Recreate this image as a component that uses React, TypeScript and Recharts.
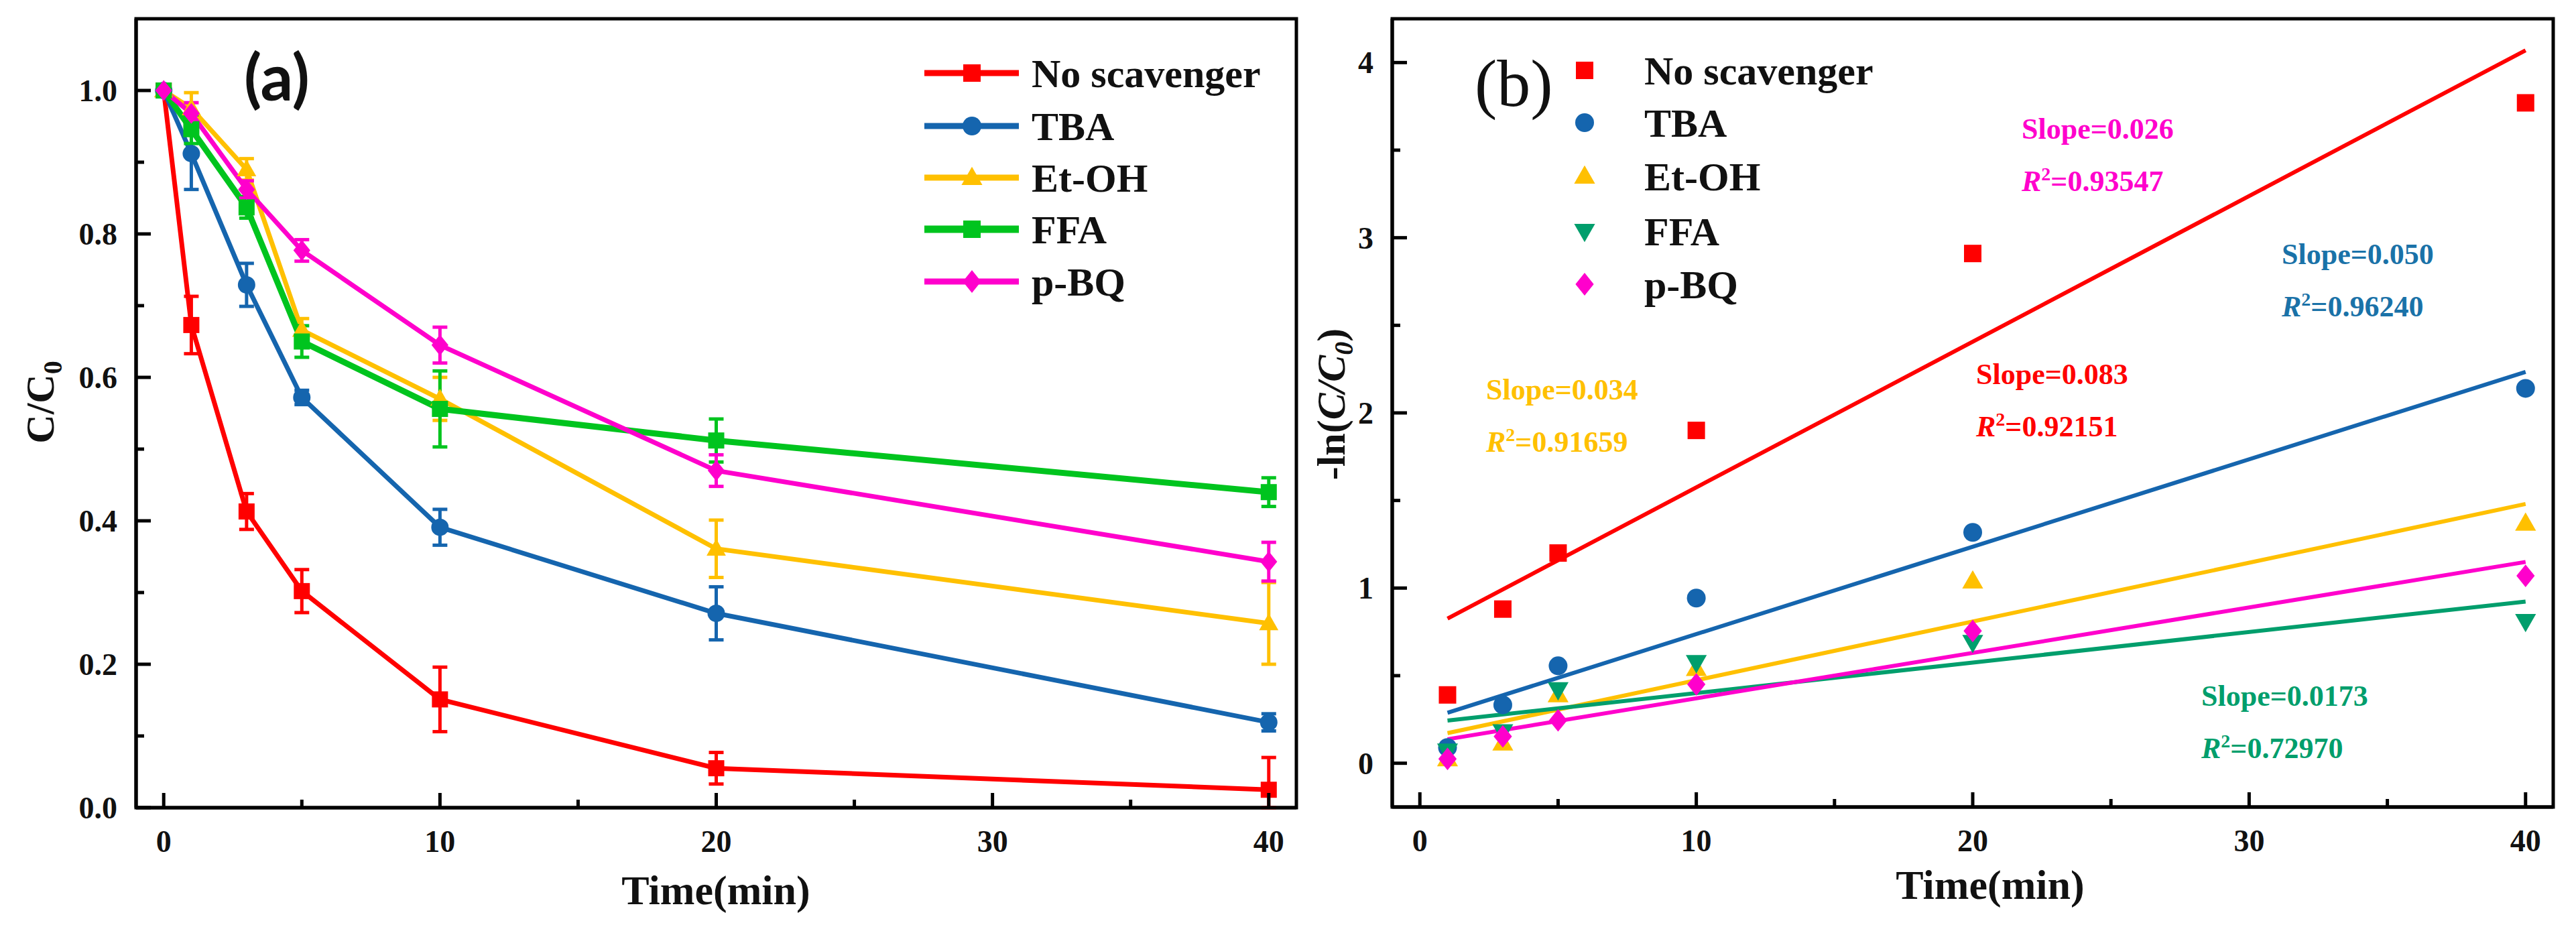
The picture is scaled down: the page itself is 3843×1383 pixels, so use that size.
import { ComposedChart, ErrorBar, Line, ReferenceArea, Scatter, XAxis, YAxis } from "recharts";

const W = 3843;
const H = 1383;
const SERIF = '"Liberation Serif", "Times New Roman", serif';
const INK = "#111";

// colours
const RED = "#ff0000";
const BLUE = "#1565ae";
const YELLOW = "#ffc000";
const GREEN_A = "#00c41e";
const GREEN_B = "#009e6c";
const MAGENTA = "#ff00cc";

// ---- panel (a): C/C0 vs time
const timesA = [0, 1, 3, 5, 10, 20, 40];
const noScavenger = [1.0, 0.673, 0.413, 0.302, 0.151, 0.055, 0.025];
const noScavengerErr: (number | number[])[] = [0, 0.04, 0.025, 0.03, 0.045, 0.022, [0.025, 0.045]];
const tba = [1.0, 0.912, 0.729, 0.572, 0.391, 0.271, 0.119];
const tbaErr = [0, 0.05, 0.03, 0.01, 0.025, 0.037, 0.012];
const etoh = [1.0, 0.975, 0.89, 0.666, 0.57, 0.361, 0.257];
const etohErr = [0, 0.022, 0.015, 0.016, 0.03, 0.04, 0.057];
const ffa = [1.0, 0.946, 0.837, 0.65, 0.556, 0.512, 0.44];
const ffaErr = [0, 0.02, 0.015, 0.022, 0.053, 0.03, 0.02];
const pbq = [1.0, 0.968, 0.862, 0.777, 0.645, 0.47, 0.343];
const pbqErr = [0, 0.015, 0.012, 0.015, 0.025, 0.022, 0.027];

// ---- panel (b): -ln(C/C0) vs time, with linear fits
const timesB = [1, 3, 5, 10, 20, 40];
const lnNoScavenger = [0.39, 0.88, 1.2, 1.9, 2.91, 3.77];
const lnTba = [0.09, 0.333, 0.556, 0.943, 1.318, 2.14];
const lnEtoh = [0.025, 0.115, 0.39, 0.54, 1.04, 1.37];
const lnFfa = [0.07, 0.18, 0.42, 0.575, 0.69, 0.81];
const lnPbq = [0.025, 0.153, 0.245, 0.45, 0.755, 1.07];

const fitTimes = [1, 40];
const fitNoScavenger = [0.826, 4.07];
const fitTba = [0.288, 2.234];
const fitEtoh = [0.172, 1.48];
const fitFfa = [0.244, 0.923];
const fitPbq = [0.137, 1.149];

const names = ["No scavenger", "TBA", "Et-OH", "FFA", "p-BQ"];
const slopeLabels = ["0.083", "0.050", "0.034", "0.0173", "0.026"];
const r2Labels = ["0.92151", "0.96240", "0.91659", "0.72970", "0.93547"];

// ticks
const xMajor = [0, 10, 20, 30, 40];
const xMinor = [5, 15, 25, 35];
const yMajorA = [0, 0.2, 0.4, 0.6, 0.8, 1.0];
const yMinorA = [0.1, 0.3, 0.5, 0.7, 0.9];
const yMajorB = [0, 1, 2, 3, 4];
const yMinorB = [0.5, 1.5, 2.5, 3.5];

type Shape = "square" | "circle" | "triangle" | "triangleDown" | "diamond";

const seriesA = [
  { name: names[0], values: noScavenger, err: noScavengerErr, color: RED, shape: "square" as Shape, lw: 7 },
  { name: names[1], values: tba, err: tbaErr, color: BLUE, shape: "circle" as Shape, lw: 7 },
  { name: names[2], values: etoh, err: etohErr, color: YELLOW, shape: "triangle" as Shape, lw: 7 },
  { name: names[3], values: ffa, err: ffaErr, color: GREEN_A, shape: "square" as Shape, lw: 9 },
  { name: names[4], values: pbq, err: pbqErr, color: MAGENTA, shape: "diamond" as Shape, lw: 7 },
];

const seriesB = [
  { name: names[0], values: lnNoScavenger, fit: fitNoScavenger, color: RED, shape: "square" as Shape },
  { name: names[1], values: lnTba, fit: fitTba, color: BLUE, shape: "circle" as Shape },
  { name: names[2], values: lnEtoh, fit: fitEtoh, color: YELLOW, shape: "triangle" as Shape },
  { name: names[3], values: lnFfa, fit: fitFfa, color: GREEN_B, shape: "triangleDown" as Shape },
  { name: names[4], values: lnPbq, fit: fitPbq, color: MAGENTA, shape: "diamond" as Shape },
];

function Marker({ shape, cx, cy, size, color }: { shape: Shape; cx: number; cy: number; size: number; color: string }) {
  if (cx == null || cy == null || Number.isNaN(cx) || Number.isNaN(cy)) return null;
  const h = size / 2;
  switch (shape) {
    case "square":
      return <rect x={cx - h} y={cy - h} width={size} height={size} fill={color} />;
    case "circle":
      return <circle cx={cx} cy={cy} r={h + 1} fill={color} />;
    case "triangle":
      return (
        <polygon
          points={`${cx},${cy - h * 1.25} ${cx - h * 1.2},${cy + h * 0.85} ${cx + h * 1.2},${cy + h * 0.85}`}
          fill={color}
        />
      );
    case "triangleDown":
      return (
        <polygon
          points={`${cx},${cy + h * 1.25} ${cx - h * 1.2},${cy - h * 0.85} ${cx + h * 1.2},${cy - h * 0.85}`}
          fill={color}
        />
      );
    default:
      return (
        <polygon
          points={`${cx},${cy - h * 1.3} ${cx + h * 1.05},${cy} ${cx},${cy + h * 1.3} ${cx - h * 1.05},${cy}`}
          fill={color}
        />
      );
  }
}

const tickText = { fontFamily: SERIF, fontWeight: "bold" as const, fontSize: 46, fill: INK };

function XTick(props: any) {
  const { x, y, payload } = props;
  const major = xMajor.includes(payload.value);
  return (
    <g>
      <line x1={x} x2={x} y1={y} y2={y - (major ? 22 : 12)} stroke="#000" strokeWidth={5} />
      {major ? (
        <text x={x} y={y + 66} textAnchor="middle" {...tickText}>
          {payload.value}
        </text>
      ) : null}
    </g>
  );
}

function makeYTick(majors: number[], digits: number) {
  return function YTick(props: any) {
    const { x, y, payload } = props;
    const major = majors.includes(payload.value);
    return (
      <g>
        <line x1={x} x2={x + (major ? 22 : 12)} y1={y} y2={y} stroke="#000" strokeWidth={5} />
        {major ? (
          <text x={x - 28} y={y + 16} textAnchor="end" {...tickText}>
            {Number(payload.value).toFixed(digits)}
          </text>
        ) : null}
      </g>
    );
  };
}

const YTickA = makeYTick(yMajorA, 1);
const YTickB = makeYTick(yMajorB, 0);

const AXIS_LINE = { stroke: "#000", strokeWidth: 5 };

function PanelA() {
  return (
    <ComposedChart width={1940} height={H} margin={{ top: 28, right: 6, bottom: 0, left: 0 }}>
      <XAxis
        type="number"
        dataKey="t"
        domain={[-1, 41]}
        allowDataOverflow
        ticks={[...xMajor, ...xMinor]}
        interval={0}
        tick={(p: any) => <XTick {...p} />}
        tickLine={false}
        tickSize={0}
        tickMargin={0}
        axisLine={AXIS_LINE}
        height={178}
      />
      <YAxis
        type="number"
        domain={[0, 1.1]}
        allowDataOverflow
        ticks={[...yMajorA, ...yMinorA]}
        interval={0}
        tick={(p: any) => <YTickA {...p} />}
        tickLine={false}
        tickSize={0}
        tickMargin={0}
        axisLine={AXIS_LINE}
        width={203}
      />
      <ReferenceArea x1={-1} x2={41} y1={0} y2={1.1} fill="none" stroke="#000" strokeWidth={5} ifOverflow="visible" />
      {seriesA.map((s) => (
        <Line
          key={s.name}
          name={s.name}
          type="linear"
          data={s.values.map((v, i) => ({ t: timesA[i], v, e: s.err[i] }))}
          dataKey="v"
          stroke={s.color}
          strokeWidth={s.lw}
          isAnimationActive={false}
          dot={(p: any) => (
            <Marker key={`${s.name}-${p.index}`} shape={s.shape} cx={p.cx} cy={p.cy} size={24} color={s.color} />
          )}
          activeDot={false}
        >
          <ErrorBar dataKey="e" width={11} strokeWidth={5} stroke={s.color} direction="y" isAnimationActive={false} />
        </Line>
      ))}
    </ComposedChart>
  );
}

function PanelB() {
  return (
    <ComposedChart width={1903} height={H} margin={{ top: 28, right: 34, bottom: 0, left: 0 }}>
      <XAxis
        type="number"
        dataKey="t"
        domain={[-1, 41]}
        allowDataOverflow
        ticks={[...xMajor, ...xMinor]}
        interval={0}
        tick={(p: any) => <XTick {...p} />}
        tickLine={false}
        tickSize={0}
        tickMargin={0}
        axisLine={AXIS_LINE}
        height={179}
      />
      <YAxis
        type="number"
        dataKey="v"
        domain={[-0.25, 4.25]}
        allowDataOverflow
        ticks={[...yMajorB, ...yMinorB]}
        interval={0}
        tick={(p: any) => <YTickB {...p} />}
        tickLine={false}
        tickSize={0}
        tickMargin={0}
        axisLine={AXIS_LINE}
        width={137}
      />
      <ReferenceArea x1={-1} x2={41} y1={-0.25} y2={4.25} fill="none" stroke="#000" strokeWidth={5} ifOverflow="visible" />
      {seriesB.map((s) => (
        <Line
          key={`fit-${s.name}`}
          type="linear"
          data={s.fit.map((v, i) => ({ t: fitTimes[i], v }))}
          dataKey="v"
          stroke={s.color}
          strokeWidth={6}
          dot={false}
          activeDot={false}
          isAnimationActive={false}
        />
      ))}
      {seriesB.map((s) => (
        <Scatter
          key={`pts-${s.name}`}
          name={s.name}
          data={s.values.map((v, i) => ({ t: timesB[i], v }))}
          isAnimationActive={false}
          shape={(p: any) => <Marker shape={s.shape} cx={p.cx} cy={p.cy} size={26} color={s.color} />}
        />
      ))}
    </ComposedChart>
  );
}

const legendRowsA = [109, 188, 265, 342, 420];
const legendRowsB = [105, 183, 263, 345, 424];

function Overlay() {
  const bold = { fontFamily: SERIF, fontWeight: "bold" as const, fill: INK };
  const note = (x: number, y: number, color: string, slope: string, r2: string) => (
    <g fontFamily={SERIF} fontWeight="bold" fontSize={44} fill={color}>
      <text x={x} y={y}>{`Slope=${slope}`}</text>
      <text x={x} y={y + 78}>
        <tspan fontStyle="italic">R</tspan>
        <tspan dy={-16} fontSize={28}>2</tspan>
        <tspan dy={16}>{`=${r2}`}</tspan>
      </text>
    </g>
  );
  return (
    <svg width={W} height={H} style={{ position: "absolute", left: 0, top: 0, pointerEvents: "none" }}>
      {/* panel labels */}
      <text x={364} y={150} fontFamily='Lato, "Open Sans", sans-serif' fontWeight="bold" fontSize={96} fill={INK}>
        (a)
      </text>
      <text x={2200} y={158} fontFamily={SERIF} fontSize={100} fill={INK}>
        (b)
      </text>

      {/* axis titles */}
      <text x={1068} y={1349} textAnchor="middle" fontSize={62} {...bold}>
        Time(min)
      </text>
      <text x={2969} y={1341} textAnchor="middle" fontSize={62} {...bold}>
        Time(min)
      </text>
      <text transform="translate(80,600) rotate(-90)" textAnchor="middle" fontSize={60} {...bold}>
        C/C<tspan dy={12} fontSize={40}>0</tspan>
      </text>
      <text transform="translate(2006,603) rotate(-90)" textAnchor="middle" fontSize={60} {...bold}>
        -ln(<tspan fontStyle="italic">C/C</tspan>
        <tspan dy={12} fontSize={40} fontStyle="italic">0</tspan>
        <tspan dy={-12}>)</tspan>
      </text>

      {/* legend (a) */}
      {seriesA.map((s, i) => (
        <g key={s.name}>
          <line x1={1379} x2={1520} y1={legendRowsA[i]} y2={legendRowsA[i]} stroke={s.color} strokeWidth={s.lw + 2} />
          <Marker shape={s.shape} cx={1450} cy={legendRowsA[i]} size={26} color={s.color} />
          <text x={1539} y={legendRowsA[i] + 21} fontSize={60} {...bold}>
            {s.name}
          </text>
        </g>
      ))}

      {/* legend (b) */}
      {seriesB.map((s, i) => (
        <g key={s.name}>
          <Marker shape={s.shape} cx={2364} cy={legendRowsB[i]} size={26} color={s.color} />
          <text x={2453} y={legendRowsB[i] + 21} fontSize={60} {...bold}>
            {s.name}
          </text>
        </g>
      ))}

      {/* fit annotations */}
      {note(2217, 596, YELLOW, slopeLabels[2], r2Labels[2])}
      {note(3016, 207, MAGENTA, slopeLabels[4], r2Labels[4])}
      {note(3404, 394, "#1a72a8", slopeLabels[1], r2Labels[1])}
      {note(2948, 573, RED, slopeLabels[0], r2Labels[0])}
      {note(3284, 1053, GREEN_B, slopeLabels[3], r2Labels[3])}
    </svg>
  );
}

export default function App() {
  return (
    <div style={{ position: "relative", width: W, height: H, background: "#fff", overflow: "hidden" }}>
      <style>{"body{margin:0}"}</style>
      <div style={{ position: "absolute", left: 0, top: 0 }}>
        <PanelA />
      </div>
      <div style={{ position: "absolute", left: 1940, top: 0 }}>
        <PanelB />
      </div>
      <Overlay />
    </div>
  );
}
